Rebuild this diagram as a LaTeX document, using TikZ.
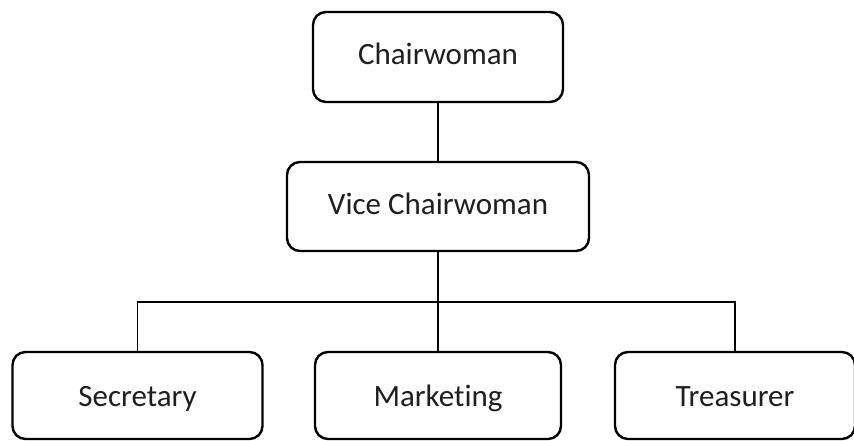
\documentclass[tikz,border=0pt]{standalone}
\usepackage{fontspec}
\setmainfont[Ligatures=NoCommon]{Carlito}
\begin{document}
\begin{tikzpicture}[x=1pt,y=1pt,
  rolebox/.style={draw=black, line width=2.4pt, rounded corners=13pt, fill=white,
    minimum height=#1, inner sep=0pt, font=\fontsize{31}{36}\selectfont, text=black!88},
  rolebox/.default=88pt,
  upper/.style={text height=20pt, text depth=4pt},
  lower/.style={text height=23pt, text depth=0pt},
  link/.style={draw=black, line width=1.9pt}]
  \useasboundingbox (0,0) rectangle (854,441);

  % top of the chart
  \node[rolebox=90pt, upper, minimum width=250pt] (chair) at (438,384) {Chairwoman};
  \node[rolebox=89pt, upper, minimum width=302pt] (vice) at (438,234.5) {Vice Chairwoman};

  % bottom row
  \node[rolebox=87pt, lower, minimum width=250pt] (sec) at (137.5,45.5) {Secretary};
  \node[rolebox=87pt, lower, minimum width=246pt] (mkt) at (438,45.5) {Marketing};
  \node[rolebox=87pt, lower, minimum width=240pt] (trea) at (735,45.5) {Treasurer};

  % level of the horizontal branch line
  \coordinate (bus) at (438,139);

  \draw[link] (chair.south) -- (vice.north);
  \draw[link] (vice.south) -- (mkt.north);
  \draw[link] (sec.north) |- (bus) -| (trea.north);
\end{tikzpicture}
\end{document}
